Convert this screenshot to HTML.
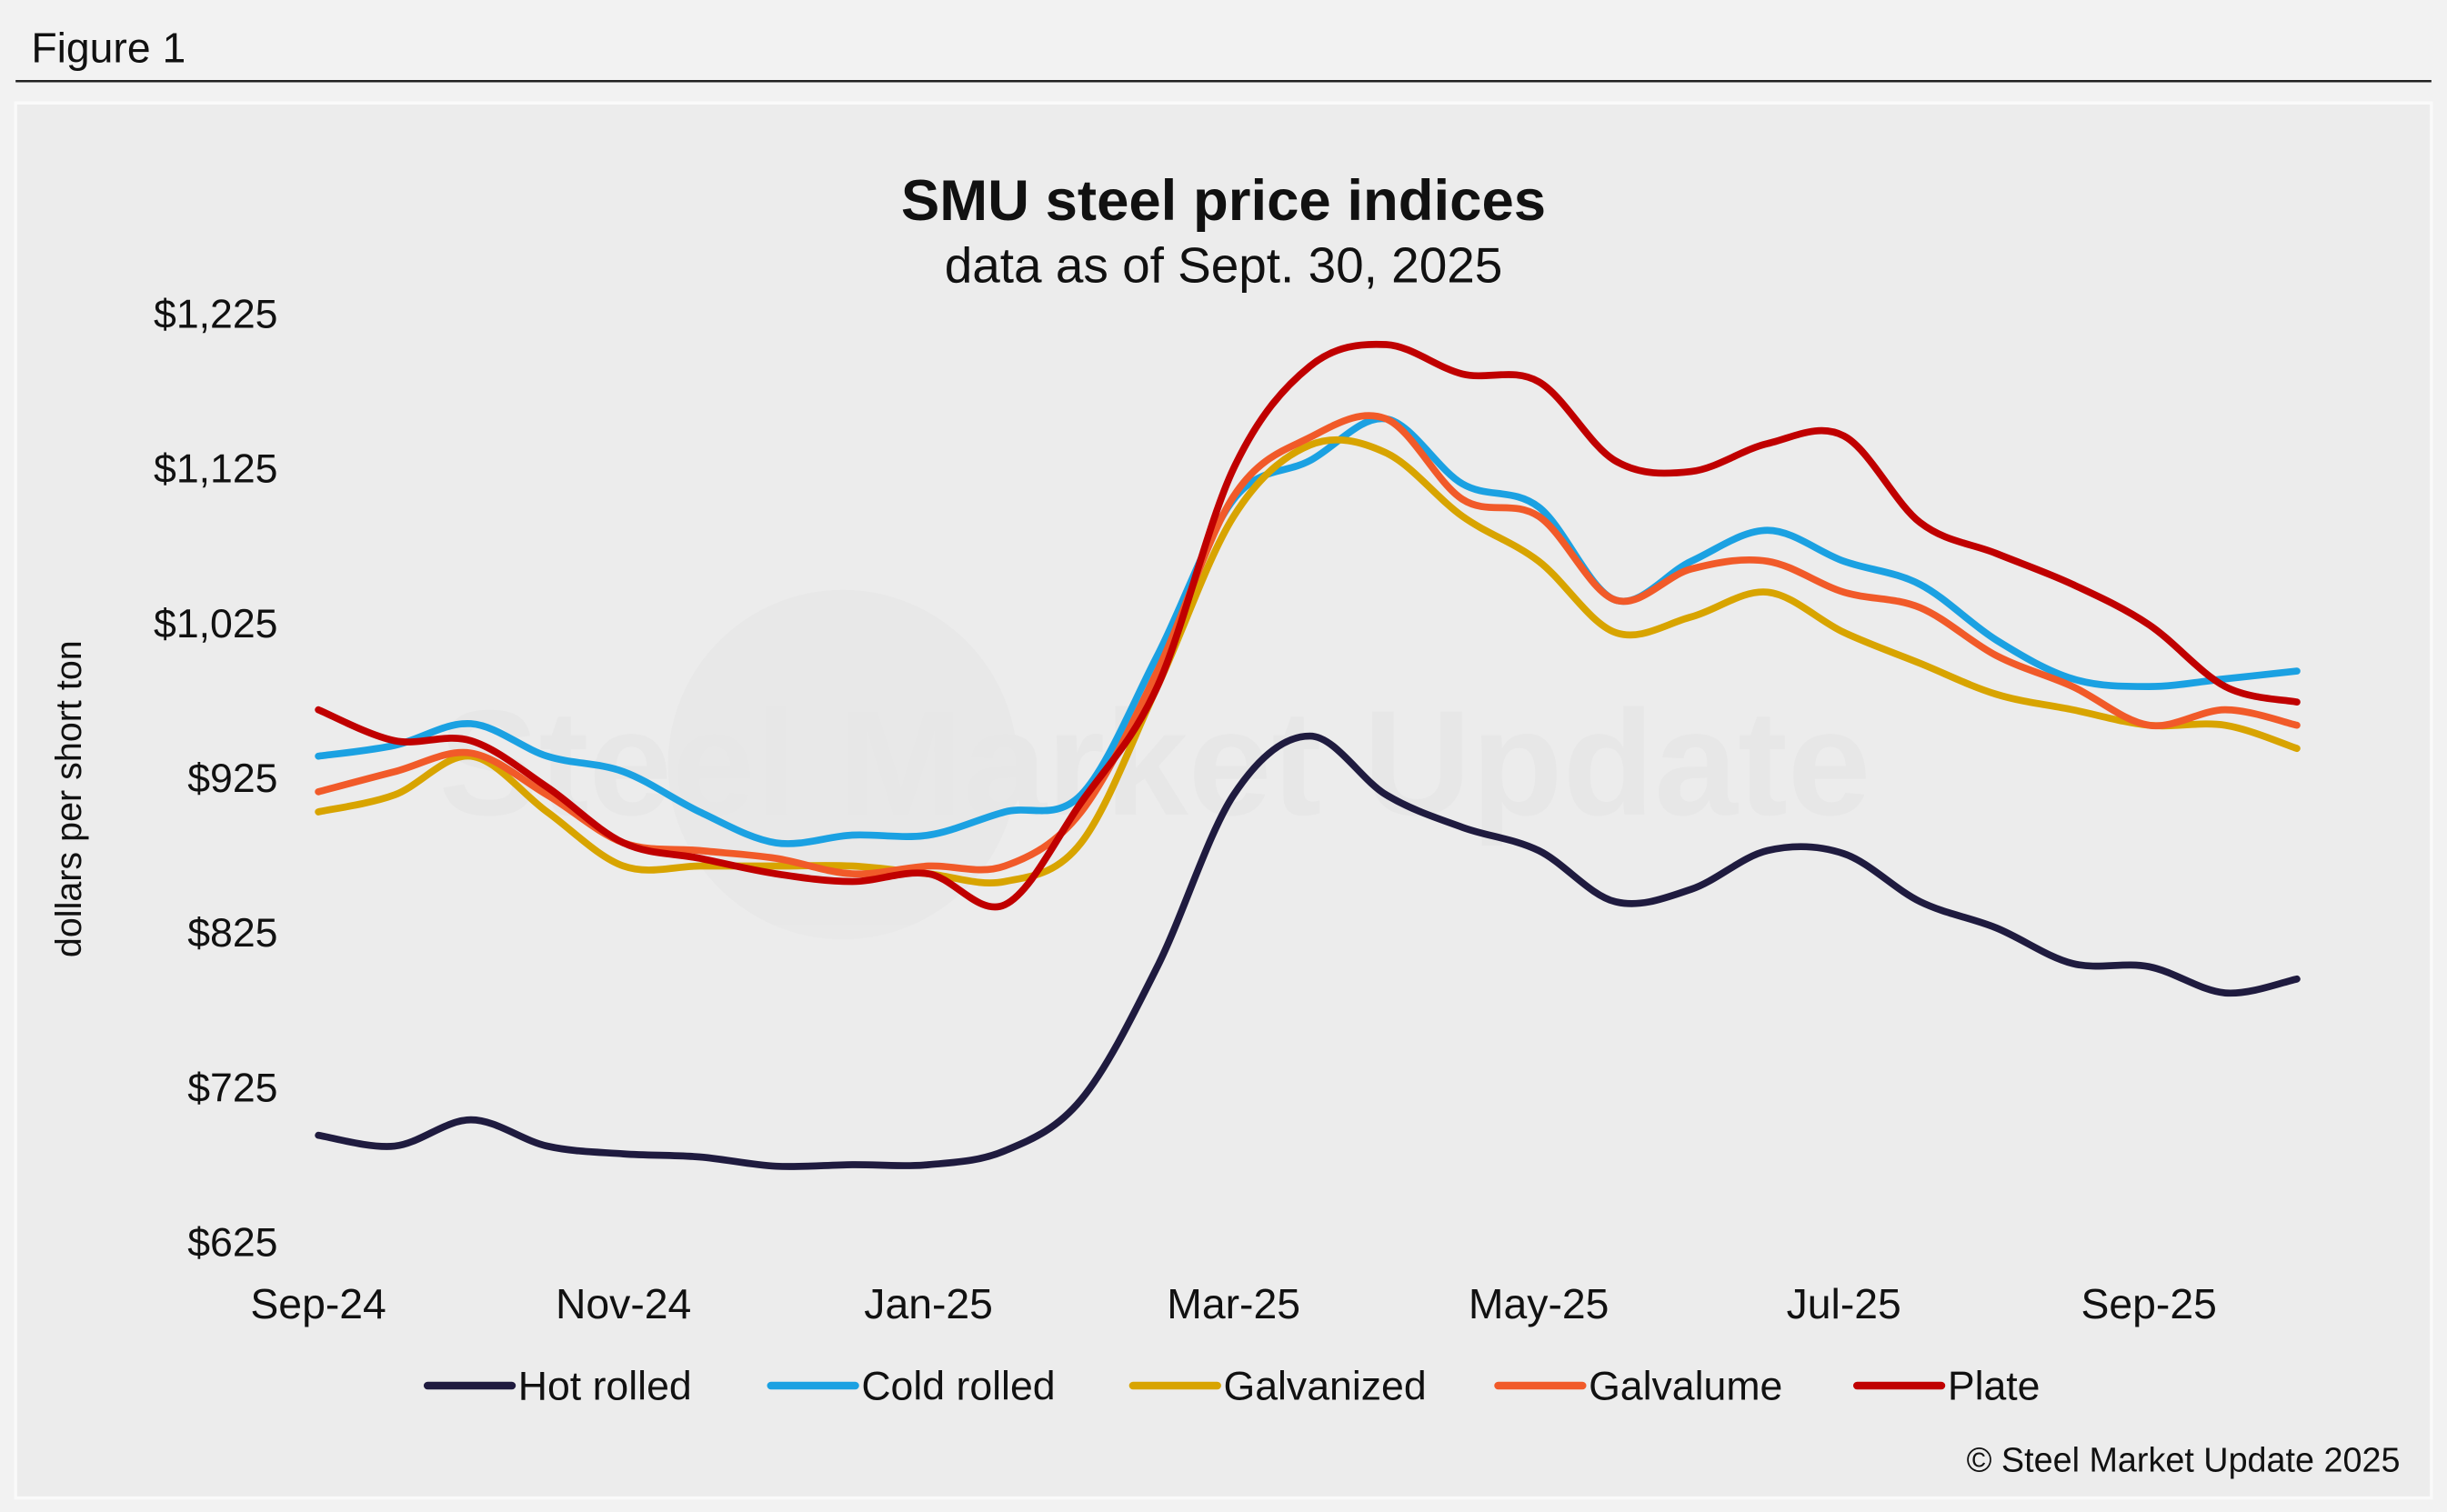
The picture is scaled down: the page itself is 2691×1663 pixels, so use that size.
<!DOCTYPE html>
<html><head><meta charset="utf-8">
<style>
html,body{margin:0;padding:0;background:#f2f2f2;}
svg{display:block;font-family:"Liberation Sans",Arial,sans-serif;}
</style></head>
<body>
<svg id="chart" width="2691" height="1663" viewBox="0 0 1568 969" xmlns="http://www.w3.org/2000/svg">
  <rect x="0" y="0" width="1568" height="969" fill="#f2f2f2"/>
  <text x="20" y="40" font-size="27" fill="#111">Figure 1</text>
  <line x1="10" y1="52" x2="1558" y2="52" stroke="#222" stroke-width="1.5"/>
  <rect x="10" y="66" width="1548" height="894" fill="#ececec" stroke="#fafafa" stroke-width="2"/>
  <g opacity="0.3">
    <circle cx="540" cy="490" r="112" fill="#e0e0e0"/>
    <text x="740" y="522" font-size="96" font-weight="bold" fill="#dcdcdc" text-anchor="middle">Steel Market Update</text>
  </g>
  <text x="784" y="141" font-size="37" font-weight="bold" text-anchor="middle" fill="#111">SMU steel price indices</text>
  <text x="784" y="181" font-size="32" text-anchor="middle" fill="#111">data as of Sept. 30, 2025</text>
  <text transform="translate(52,512) rotate(-90)" font-size="23" text-anchor="middle" fill="#111">dollars per short ton</text>
  <g id="yticks"></g>
  <g id="xticks"></g>
  <g id="series"></g>
  <g id="legend"></g>
  <text x="1538" y="943" font-size="22" text-anchor="end" fill="#111">© Steel Market Update 2025</text>
</svg>
<script>
const yTicks = [625,725,825,925,1025,1125,1225];
const xLabels = ["Sep-24","Nov-24","Jan-25","Mar-25","May-25","Jul-25","Sep-25"];
const xLabelMonths = [0,2,4,6,8,10,12];
const months = [0,0.5,1,1.5,2,2.5,3,3.5,4,4.5,5,5.5,6,6.5,7,7.5,8,8.5,9,9.5,10,10.5,11,11.5,12,12.5,12.97];
const hotRolled = [694,687,704,687,682,680,674,675,675,684,717,803,914,952,914,893,878,845,853,878,876,845,828,805,803,786,795];
const coldRolled = [939,946,960,939,929,903,883,888,888,903,914,1004,1105,1130,1157,1115,1100,1040,1065,1085,1065,1050,1014,989,984,989,994];
const galvanized = [903,914,939,903,868,868,868,868,863,858,883,984,1094,1140,1135,1094,1065,1019,1029,1045,1019,999,979,969,959,959,944];
const galvalume = [916,929,941,914,883,878,873,863,868,868,903,994,1107,1145,1157,1105,1094,1040,1060,1065,1045,1035,1004,984,959,969,959];
const plate = [969,949,949,919,883,873,863,858,863,843,909,984,1125,1191,1205,1186,1181,1130,1123,1141,1146,1090,1070,1050,1024,984,974];
const seriesNames = ["Hot rolled","Cold rolled","Galvanized","Galvalume","Plate"];
const seriesColors = ["#1f1b3f","#1ba1e2","#d8a400","#f15a29","#c00000"];
const seriesData = [hotRolled,coldRolled,galvanized,galvalume,plate];

const NS="http://www.w3.org/2000/svg";
const x0=204, pxPerMonth=97.75, y0=796, yMin=625, yMax=1225, yTop=201;
function xs(m){return x0+m*pxPerMonth;}
function ys(v){return y0-(v-yMin)/(yMax-yMin)*(y0-yTop);}
function mk(tag,attrs,parent){const e=document.createElementNS(NS,tag);for(const k in attrs)e.setAttribute(k,attrs[k]);parent.appendChild(e);return e;}

const yg=document.getElementById('yticks');
yTicks.forEach(v=>{
  const t=mk('text',{x:178,y:ys(v)+9,'font-size':26,'text-anchor':'end',fill:'#111'},yg);
  
  
  t.textContent='$'+v.toLocaleString('en-US');
});
const xg=document.getElementById('xticks');
xLabels.forEach((l,i)=>{
  const t=mk('text',{x:xs(xLabelMonths[i]),y:845,'font-size':27,'text-anchor':'middle',fill:'#111'},xg);
  
  
  t.textContent=l;
});
function smooth(pts){
  let d='M'+pts[0][0]+','+pts[0][1];
  for(let i=0;i<pts.length-1;i++){
    const p0=pts[Math.max(i-1,0)],p1=pts[i],p2=pts[i+1],p3=pts[Math.min(i+2,pts.length-1)];
    const c1x=p1[0]+(p2[0]-p0[0])/6,c1y=p1[1]+(p2[1]-p0[1])/6;
    const c2x=p2[0]-(p3[0]-p1[0])/6,c2y=p2[1]-(p3[1]-p1[1])/6;
    d+=' C'+c1x+','+c1y+' '+c2x+','+c2y+' '+p2[0]+','+p2[1];
  }
  return d;
}
const sg=document.getElementById('series');
seriesData.forEach((arr,i)=>{
  const pts=arr.map((v,j)=>[xs(months[j]),ys(v)]);
  const p=mk('path',{d:smooth(pts),fill:'none',stroke:seriesColors[i],'stroke-width':4.5,'stroke-linejoin':'round','stroke-linecap':'round'},sg);
  
  
});
const lg=document.getElementById('legend');
const legX=[274,494,726,960,1190];
seriesNames.forEach((n,i)=>{
  const g=mk('g',{},lg);
  
  
  mk('line',{x1:legX[i],y1:888,x2:legX[i]+54,y2:888,stroke:seriesColors[i],'stroke-width':5,'stroke-linecap':'round'},g);
  const t=mk('text',{x:legX[i]+58,y:897,'font-size':26,fill:'#111'},g);
  t.textContent=n;
});
</script>
</body></html>
